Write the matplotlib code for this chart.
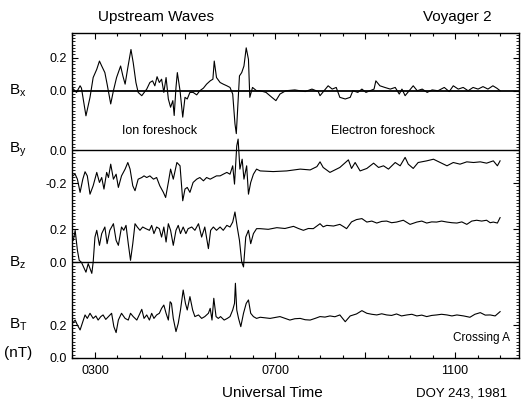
import matplotlib
matplotlib.use("Agg")
import matplotlib.pyplot as plt
import matplotlib.transforms as mtrans
from matplotlib.ticker import MultipleLocator, FixedLocator

plt.rcParams['font.family'] = ['Liberation Sans', 'DejaVu Sans']
plt.rcParams['mathtext.default'] = 'regular'

# universal time in hours, field components in nT
t_bx = [2.50, 2.59, 2.67, 2.70, 2.80, 2.89, 2.96, 3.04, 3.10, 3.15, 3.22, 3.27, 3.35, 3.41,
        3.48, 3.57, 3.62, 3.67, 3.73, 3.80, 3.85, 3.91, 3.96, 4.04, 4.15, 4.22, 4.28, 4.33,
        4.38, 4.43, 4.48, 4.53, 4.58, 4.63, 4.68, 4.73, 4.76, 4.80, 4.83, 4.89, 4.95, 5.00,
        5.05, 5.11, 5.18, 5.26, 5.33, 5.41, 5.48, 5.56, 5.62, 5.65, 5.70, 5.78, 5.85, 5.93,
        6.00, 6.06, 6.11, 6.14, 6.21, 6.26, 6.31, 6.36, 6.41, 6.44, 6.50, 6.59,
        6.67, 6.80, 6.93, 7.02, 7.11, 7.24, 7.44, 7.67, 7.82, 7.96, 8.00, 8.09, 8.18, 8.27,
        8.36, 8.44, 8.56, 8.67, 8.73, 8.84, 8.93, 9.02, 9.11, 9.20, 9.24, 9.33, 9.44, 9.56,
        9.67, 9.76, 9.82, 9.89, 9.98, 10.07, 10.16, 10.27, 10.38, 10.49, 10.62, 10.76,
        10.87, 10.96, 11.07, 11.18, 11.29, 11.40, 11.51, 11.62, 11.73, 11.84, 11.93, 12.00]
bx = [0.016, -0.01, 0.03, 0.016, -0.152, -0.04, 0.08, 0.13, 0.18, 0.15, 0.11, 0.04, -0.08, 0.0,
      0.08, 0.15, 0.09, 0.04, 0.14, 0.25, 0.17, 0.05, -0.01, -0.03, 0.01, 0.05, 0.06, 0.03,
      0.085, 0.05, 0.07, -0.01, 0.08, -0.05, -0.10, -0.06, -0.15, 0.02, 0.11, 0.0, -0.16, -0.04,
      -0.05, -0.01, -0.01, -0.025, 0.0, 0.016, 0.04, 0.06, 0.07, 0.18, 0.08, 0.05, 0.04, 0.03,
      0.02, -0.02, -0.20, -0.26, 0.09, 0.11, 0.15, 0.26, 0.19, -0.04, 0.02, 0.0,
      0.0, -0.01, -0.04, -0.06, -0.02, 0.0, 0.005, -0.005, 0.01, -0.005, -0.03, 0.0, 0.03, 0.01,
      0.02, -0.04, -0.05, -0.04, 0.0, -0.01, 0.01, -0.01, 0.0, 0.01, 0.06, 0.03, 0.02, 0.01,
      0.02, -0.02, 0.01, -0.03, 0.0, 0.03, 0.0, 0.01, -0.01, 0.005, 0.0, 0.02,
      -0.005, 0.03, 0.01, 0.02, 0.0, 0.02, 0.01, 0.025, 0.01, 0.03, 0.015, 0.0]

t_by = [2.50, 2.56, 2.61, 2.67, 2.73, 2.78, 2.83, 2.89, 2.96, 3.04, 3.10, 3.15, 3.20, 3.26,
        3.30, 3.35, 3.41, 3.47, 3.52, 3.59, 3.67, 3.73, 3.78, 3.84, 3.89, 3.96, 4.04, 4.09,
        4.15, 4.22, 4.30, 4.37, 4.44, 4.52, 4.57, 4.63, 4.68, 4.74, 4.82, 4.89, 4.95, 5.00,
        5.05, 5.11, 5.18, 5.26, 5.33, 5.41, 5.48, 5.56, 5.63, 5.70, 5.78, 5.85, 5.93, 6.00,
        6.06, 6.10, 6.15, 6.18, 6.22, 6.27, 6.31, 6.37, 6.41, 6.46, 6.52, 6.59,
        6.67, 6.96, 7.26, 7.56, 7.78, 7.93, 8.00, 8.07, 8.22, 8.44, 8.63, 8.70, 8.78, 8.89,
        9.04, 9.19, 9.30, 9.41, 9.52, 9.67, 9.78, 9.89, 9.96, 10.07, 10.18, 10.37, 10.52,
        10.67, 10.82, 10.96, 11.11, 11.26, 11.41, 11.56, 11.70, 11.85, 11.94, 12.00]
by = [-0.156, -0.146, -0.176, -0.256, -0.176, -0.131, -0.156, -0.267, -0.216, -0.135, -0.196,
      -0.166, -0.236, -0.135, -0.166, -0.085, -0.176, -0.146, -0.226, -0.156, -0.115, -0.075,
      -0.115, -0.216, -0.246, -0.176, -0.166, -0.156, -0.166, -0.156, -0.176, -0.166, -0.216,
      -0.256, -0.287, -0.196, -0.115, -0.176, -0.075, -0.095, -0.307, -0.236, -0.226, -0.256,
      -0.196, -0.176, -0.166, -0.186, -0.166, -0.176, -0.166, -0.156, -0.156, -0.146, -0.135,
      -0.146, -0.095, -0.206, 0.026, 0.067, -0.115, -0.055, -0.176, -0.095, -0.267, -0.196,
      -0.146, -0.115,
      -0.126, -0.13, -0.126, -0.115, -0.12, -0.10, -0.071, -0.105, -0.135, -0.105, -0.059,
      -0.111, -0.075, -0.126, -0.111, -0.079, -0.105, -0.095, -0.115, -0.075, -0.095, -0.044,
      -0.085, -0.111, -0.075, -0.065, -0.055, -0.075, -0.095, -0.075, -0.085, -0.071, -0.075,
      -0.071, -0.079, -0.065, -0.095, -0.065]

t_bz = [2.49, 2.52, 2.56, 2.61, 2.65, 2.70, 2.80, 2.85, 2.93, 2.96, 3.00, 3.04, 3.10, 3.15,
        3.22, 3.27, 3.33, 3.41, 3.47, 3.52, 3.59, 3.64, 3.69, 3.74, 3.79, 3.84, 3.89, 3.94,
        4.00, 4.06, 4.13, 4.21, 4.26, 4.31, 4.37, 4.43, 4.48, 4.53, 4.58, 4.63, 4.68, 4.74,
        4.80, 4.85, 4.90, 4.96, 5.02, 5.07, 5.15, 5.22, 5.30, 5.37, 5.44, 5.52, 5.57, 5.63,
        5.70, 5.78, 5.85, 5.93, 6.00, 6.06, 6.11, 6.16, 6.21, 6.26, 6.30, 6.35, 6.41, 6.46,
        6.52, 6.59,
        6.67, 6.85, 7.04, 7.22, 7.41, 7.52, 7.63, 7.74, 7.85, 8.00, 8.07, 8.15, 8.30, 8.44,
        8.53, 8.59, 8.70, 8.81, 8.93, 9.04, 9.15, 9.26, 9.37, 9.48, 9.59, 9.70, 9.85, 10.00,
        10.15, 10.26, 10.37, 10.48, 10.59, 10.70, 10.82, 10.93, 11.04, 11.15, 11.26, 11.37,
        11.48, 11.59, 11.70, 11.78, 11.85, 11.94, 12.00]
bz = [0.153, 0.133, 0.194, 0.073, 0.012, 0.0, -0.06, -0.008, -0.067, 0.0, 0.153, 0.194, 0.103,
      0.174, 0.214, 0.113, 0.194, 0.234, 0.133, 0.103, 0.214, 0.194, 0.224, 0.113, 0.012, 0.113,
      0.234, 0.214, 0.194, 0.214, 0.204, 0.194, 0.224, 0.174, 0.214, 0.204, 0.153, 0.214, 0.123,
      0.234, 0.194, 0.103, 0.194, 0.224, 0.174, 0.214, 0.174, 0.204, 0.214, 0.194, 0.234, 0.153,
      0.214, 0.083, 0.194, 0.214, 0.194, 0.214, 0.194, 0.224, 0.214, 0.244, 0.305, 0.214, 0.133,
      0.002, -0.028, 0.153, 0.194, 0.113, 0.174, 0.204,
      0.204, 0.20, 0.210, 0.205, 0.218, 0.205, 0.194, 0.205, 0.204, 0.234, 0.215, 0.224, 0.22,
      0.230, 0.215, 0.204, 0.245, 0.259, 0.265, 0.244, 0.25, 0.238, 0.248, 0.250, 0.24, 0.244,
      0.255, 0.230, 0.244, 0.25, 0.238, 0.245, 0.244, 0.25, 0.244, 0.24, 0.238, 0.245, 0.230,
      0.25, 0.255, 0.25, 0.255, 0.24, 0.244, 0.238, 0.271]

t_bt = [2.50, 2.56, 2.61, 2.67, 2.73, 2.78, 2.83, 2.89, 2.96, 3.02, 3.07, 3.13, 3.18, 3.24,
        3.30, 3.37, 3.42, 3.47, 3.52, 3.59, 3.67, 3.74, 3.79, 3.85, 3.93, 4.00, 4.04, 4.09,
        4.15, 4.21, 4.26, 4.31, 4.37, 4.43, 4.48, 4.53, 4.58, 4.63, 4.67, 4.70, 4.74, 4.80,
        4.85, 4.90, 4.96, 5.01, 5.05, 5.11, 5.17, 5.22, 5.30, 5.37, 5.44, 5.52, 5.56, 5.60,
        5.64, 5.69, 5.74, 5.79, 5.87, 5.94, 6.00, 6.06, 6.10, 6.12, 6.15, 6.19, 6.24, 6.30,
        6.36, 6.41, 6.46, 6.52, 6.59,
        6.67, 6.89, 7.11, 7.33, 7.44, 7.56, 7.67, 7.78, 7.89, 8.00, 8.11, 8.22, 8.33, 8.44,
        8.56, 8.67, 8.81, 8.93, 9.04, 9.15, 9.26, 9.37, 9.48, 9.59, 9.70, 9.81, 9.93, 10.04,
        10.15, 10.26, 10.37, 10.48, 10.59, 10.70, 10.82, 10.93, 11.04, 11.19, 11.33, 11.44,
        11.56, 11.67, 11.78, 11.89, 12.00]
bt = [0.210, 0.230, 0.200, 0.170, 0.220, 0.261, 0.240, 0.271, 0.240, 0.255, 0.230, 0.251,
      0.261, 0.234, 0.251, 0.271, 0.190, 0.154, 0.230, 0.271, 0.240, 0.230, 0.271, 0.251, 0.230,
      0.271, 0.295, 0.240, 0.261, 0.230, 0.271, 0.240, 0.261, 0.271, 0.301, 0.321, 0.271, 0.230,
      0.341, 0.331, 0.240, 0.160, 0.210, 0.291, 0.412, 0.331, 0.291, 0.372, 0.291, 0.251, 0.261,
      0.240, 0.251, 0.271, 0.301, 0.230, 0.362, 0.251, 0.240, 0.251, 0.230, 0.240, 0.251, 0.291,
      0.331, 0.453, 0.291, 0.240, 0.190, 0.271, 0.331, 0.352, 0.271, 0.251, 0.240,
      0.247, 0.240, 0.251, 0.230, 0.238, 0.240, 0.232, 0.230, 0.24, 0.251, 0.248, 0.255, 0.25,
      0.261, 0.220, 0.255, 0.267, 0.287, 0.271, 0.265, 0.261, 0.268, 0.261, 0.258, 0.267, 0.255,
      0.261, 0.265, 0.255, 0.26, 0.251, 0.258, 0.261, 0.265, 0.261, 0.255, 0.261, 0.255, 0.247,
      0.265, 0.275, 0.26, 0.261, 0.255, 0.281]

# vertical offsets of the stacked traces (nT)
off_bx, off_by, off_bz, off_bt = 1.62, 1.26, 0.58, 0.0

fig = plt.figure(figsize=(5.25, 4.08), dpi=100)
ax = fig.add_axes([72/525, 50/408, 447/525, 325/408])

lw = 0.8
ax.plot(t_bx, [v + off_bx for v in bx], color='black', lw=lw)
ax.plot(t_by, [v + off_by for v in by], color='black', lw=lw)
ax.plot(t_bz, [v + off_bz for v in bz], color='black', lw=lw)
ax.plot(t_bt, [v + off_bt for v in bt], color='black', lw=lw)

ax.axhline(off_bx, color='black', lw=1.3)
ax.axhline(off_by, color='black', lw=1.0)
ax.axhline(off_bz, color='black', lw=1.0)

ax.set_xlim(2.49, 12.42)
ax.set_ylim(0, 1.97)

# time axis
ax.xaxis.set_major_locator(FixedLocator([3, 5, 7, 9, 11]))
ax.xaxis.set_minor_locator(MultipleLocator(0.5))
ax.set_xticklabels(['0300', '', '0700', '', '1100'])
ax.tick_params(axis='x', which='both', direction='in', top=True, bottom=True, labelsize=9, pad=5)
ax.tick_params(axis='x', which='major', length=4.5, width=0.8)
ax.tick_params(axis='x', which='minor', length=2.2, width=0.8)

# field axis
ypos = [off_bx + 0.2, off_bx, off_by, off_by - 0.2, off_bz + 0.2, off_bz, off_bt + 0.2, off_bt]
ylab = ['0.2', '0.0', '0.0', '-0.2', '0.2', '0.0', '0.2', '0.0']
ax.set_yticks(ypos)
ax.set_yticklabels(ylab)
ax.yaxis.set_minor_locator(MultipleLocator(0.02))
ax.tick_params(axis='y', which='both', direction='in', left=True, right=True, labelsize=9, pad=4)
ax.tick_params(axis='y', which='major', length=4, width=0.8)
ax.tick_params(axis='y', which='minor', length=2, width=0.6)

for s in ax.spines.values():
    s.set_linewidth(1.0)

# component labels
tr = mtrans.blended_transform_factory(fig.transFigure, ax.transData)
ax.text(18/525, off_bx, 'B$_x$', transform=tr, ha='center', va='center', fontsize=11)
ax.text(18/525, off_by, 'B$_y$', transform=tr, ha='center', va='center', fontsize=11)
ax.text(18/525, off_bz, 'B$_z$', transform=tr, ha='center', va='center', fontsize=11)
ax.text(18/525, off_bt + 0.2, 'B$_T$', transform=tr, ha='center', va='center', fontsize=11)
ax.text(18/525, off_bt + 0.03, '(nT)', transform=tr, ha='center', va='center', fontsize=11)

ax.text(4.44, 1.376, 'Ion foreshock', ha='center', va='center', fontsize=9)
ax.text(9.40, 1.376, 'Electron foreshock', ha='center', va='center', fontsize=9)
ax.text(11.58, 0.12, 'Crossing A', ha='center', va='center', fontsize=8.5)

fig.text(156/525, 1 - 17/408, 'Upstream Waves', ha='center', va='center', fontsize=11)
fig.text(457/525, 1 - 17/408, 'Voyager 2', ha='center', va='center', fontsize=11)
fig.text(272/525, 1 - 393/408, 'Universal Time', ha='center', va='center', fontsize=11)
fig.text(462/525, 1 - 393/408, 'DOY 243, 1981', ha='center', va='center', fontsize=9.5)

fig.savefig('out.png', dpi=100)
